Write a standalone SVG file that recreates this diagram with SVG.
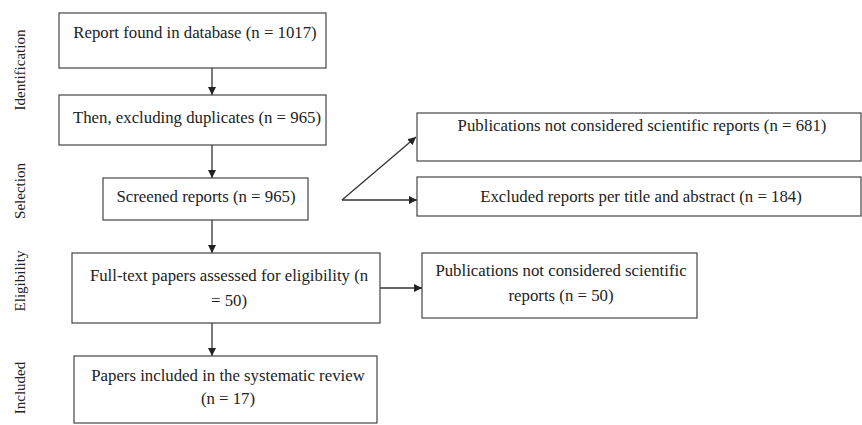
<svg xmlns="http://www.w3.org/2000/svg" width="862" height="425" viewBox="0 0 862 425">
<style>
  .box{fill:#fff;stroke:#444;stroke-width:1.2}
  .t{font-family:"Liberation Serif","Times New Roman",serif;font-size:16.8px;fill:#222;text-anchor:middle}
  .side{font-family:"Liberation Serif","Times New Roman",serif;font-size:15px;fill:#222;text-anchor:middle}
  .c{stroke:#333;stroke-width:1.3;fill:none}
</style>
<defs>
  <marker id="ah" viewBox="0 0 10 10" refX="10" refY="5" markerWidth="8" markerHeight="8" markerUnits="userSpaceOnUse" orient="auto">
    <path d="M0,0 L10,5 L0,10 Z" fill="#222"/>
  </marker>
</defs>
<rect width="862" height="425" fill="#fff"/>
<g id="phase-labels">
  <text class="side" transform="translate(25,70) rotate(-90)">Identification</text>
  <text class="side" transform="translate(25,191) rotate(-90)">Selection</text>
  <text class="side" transform="translate(25,281) rotate(-90)">Eligibility</text>
  <text class="side" transform="translate(25,388) rotate(-90)">Included</text>
</g>
<g id="connectors">
  <line class="c" x1="212" y1="68" x2="212" y2="95" marker-end="url(#ah)"/>
  <line class="c" x1="212" y1="145" x2="212" y2="178" marker-end="url(#ah)"/>
  <line class="c" x1="212" y1="220" x2="212" y2="253" marker-end="url(#ah)"/>
  <line class="c" x1="212" y1="323" x2="212" y2="356" marker-end="url(#ah)"/>
  <line class="c" x1="380" y1="288" x2="422" y2="288" marker-end="url(#ah)"/>
  <line class="c" x1="342" y1="200" x2="416" y2="137" marker-end="url(#ah)"/>
  <line class="c" x1="342" y1="200" x2="417" y2="200" marker-end="url(#ah)"/>
</g>
<g id="n1">
  <rect class="box" x="59" y="13" width="267" height="55"/>
  <text class="t" x="195" y="38">Report found in database (n = 1017)</text>
</g>
<g id="n2">
  <rect class="box" x="59" y="95" width="267" height="50"/>
  <text class="t" x="197" y="123">Then, excluding duplicates (n = 965)</text>
</g>
<g id="n3">
  <rect class="box" x="103" y="178" width="205" height="42"/>
  <text class="t" x="206" y="202">Screened reports (n = 965)</text>
</g>
<g id="n4">
  <rect class="box" x="72" y="253" width="308" height="70"/>
  <text class="t" x="229" y="281">Full-text papers assessed for eligibility (n</text>
  <text class="t" x="229" y="306">= 50)</text>
</g>
<g id="n5">
  <rect class="box" x="74" y="356" width="303" height="67"/>
  <text class="t" x="228" y="381">Papers included in the systematic review</text>
  <text class="t" x="228" y="404">(n = 17)</text>
</g>
<g id="n6">
  <rect class="box" x="417" y="113" width="444" height="48"/>
  <text class="t" x="642" y="131">Publications not considered scientific reports (n = 681)</text>
</g>
<g id="n7">
  <rect class="box" x="417" y="177" width="444" height="39"/>
  <text class="t" x="641" y="202">Excluded reports per title and abstract (n = 184)</text>
</g>
<g id="n8">
  <rect class="box" x="422" y="253" width="275" height="65"/>
  <text class="t" x="561" y="276">Publications not considered scientific</text>
  <text class="t" x="561" y="301">reports (n = 50)</text>
</g>
</svg>
